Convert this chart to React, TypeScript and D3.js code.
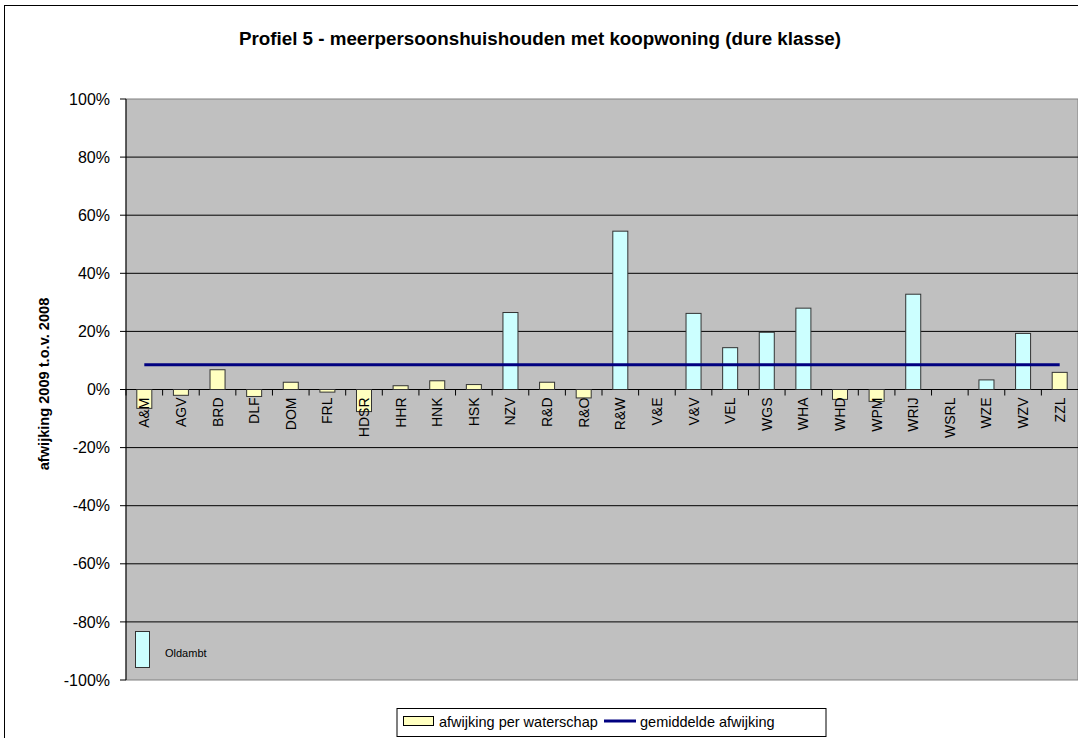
import React from "react";
import * as d3 from "d3";

const categories = ["A&M","AGV","BRD","DLF","DOM","FRL","HDSR","HHR","HNK","HSK","NZV","R&D","R&O","R&W","V&E","V&V","VEL","WGS","WHA","WHD","WPM","WRIJ","WSRL","WZE","WZV","ZZL"];
const values = [-6.5,-2,6.8,-2.4,2.5,-0.9,-7.6,1.3,3,1.7,26.5,2.5,-2.9,54.5,0,26.2,14.4,19.7,28,-3.4,-4.1,32.8,0,3.3,19.3,5.9];
const highlighted = [false,false,false,false,false,false,false,false,false,false,true,false,false,true,false,true,true,true,true,false,false,true,false,true,true,false];
const averageValue = 8.5;
const yTicks = [-100,-80,-60,-40,-20,0,20,40,60,80,100];
const title = "Profiel 5 - meerpersoonshuishouden met koopwoning (dure klasse)";
const yTitle = "afwijking 2009 t.o.v. 2008";
const legendLabels = ["afwijking per waterschap", "gemiddelde afwijking"];
const annotation = "Oldambt";

const W = 1078, H = 738;
const left = 126, right = 1078, top = 99, bottom = 680;
const YELLOW = "#FFFFC0", CYAN = "#CCFFFF", NAVY = "#000080";

export default function App() {
  const x = d3.scaleBand<string>().domain(categories).range([left, right]).paddingInner(0.59).paddingOuter(0.295);
  const xb = d3.scaleBand<string>().domain(categories).range([left, right]);
  const y = d3.scaleLinear().domain([-100, 100]).range([bottom, top]);
  const font = "Arial, 'Liberation Sans', sans-serif";
  const firstC = xb(categories[0])! + xb.bandwidth() / 2;
  const lastC = xb(categories[categories.length - 1])! + xb.bandwidth() / 2;
  return (
    <svg width={W} height={H} style={{ position: "absolute", left: 0, top: 0, background: "#fff" }} fontFamily={font}>
      <rect x={4.5} y={5.5} width={W} height={H} fill="#fff" stroke="#000" strokeWidth={1} />
      <text x={540} y={45} textAnchor="middle" fontSize={18.8} fontWeight="bold">{title}</text>
      <rect x={left} y={top} width={right - left} height={bottom - top} fill="#C0C0C0" stroke="#808080" />
      {yTicks.map(t => (
        <g key={t}>
          {t !== 100 && t !== -100 && <line x1={left} x2={right} y1={y(t)} y2={y(t)} stroke="#000" strokeWidth={1} />}
          <line x1={left - 6} x2={left} y1={y(t)} y2={y(t)} stroke="#000" />
          <text x={110} y={y(t)} dy="0.35em" textAnchor="end" fontSize={16}>{t + "%"}</text>
        </g>
      ))}
      <line x1={left} x2={left} y1={top} y2={bottom} stroke="#000" />
      <line x1={left} x2={right} y1={y(0)} y2={y(0)} stroke="#000" />
      {categories.map((c, i) => (
        <line key={"t" + i} x1={xb(c)!} x2={xb(c)!} y1={y(0)} y2={y(0) + 6} stroke="#000" />
      ))}
      {categories.map((c, i) => {
        const v = values[i];
        if (v === 0) return null;
        const y0 = y(Math.max(0, v)), y1 = y(Math.min(0, v));
        return <rect key={c} x={x(c)!} y={y0} width={x.bandwidth()} height={y1 - y0}
          fill={highlighted[i] ? CYAN : YELLOW} stroke="#333" strokeWidth={1} />;
      })}
      <line x1={firstC} x2={lastC} y1={y(averageValue)} y2={y(averageValue)} stroke={NAVY} strokeWidth={3} />
      {categories.map((c, i) => {
        const cx = xb(c)! + xb.bandwidth() / 2;
        return <text key={"l" + i} transform={`translate(${cx + 5},${y(0) + 8}) rotate(-90)`} textAnchor="end" fontSize={14}>{c}</text>;
      })}
      <text transform={`translate(49,384) rotate(-90)`} textAnchor="middle" fontSize={14.6} fontWeight="bold">{yTitle}</text>
      <rect x={135.5} y={631.5} width={14} height={36} fill={CYAN} stroke="#333" />
      <text x={165} y={657} fontSize={11}>{annotation}</text>
      <rect x={397} y={708.5} width={429} height={28} fill="#fff" stroke="#000" />
      <rect x={403.5} y={716.5} width={30} height={9} fill={YELLOW} stroke="#000" />
      <text x={439} y={726.5} fontSize={14.5}>{legendLabels[0]}</text>
      <line x1={604} x2={636} y1={721} y2={721} stroke={NAVY} strokeWidth={3} />
      <text x={640} y={726.5} fontSize={14.5}>{legendLabels[1]}</text>
    </svg>
  );
}
